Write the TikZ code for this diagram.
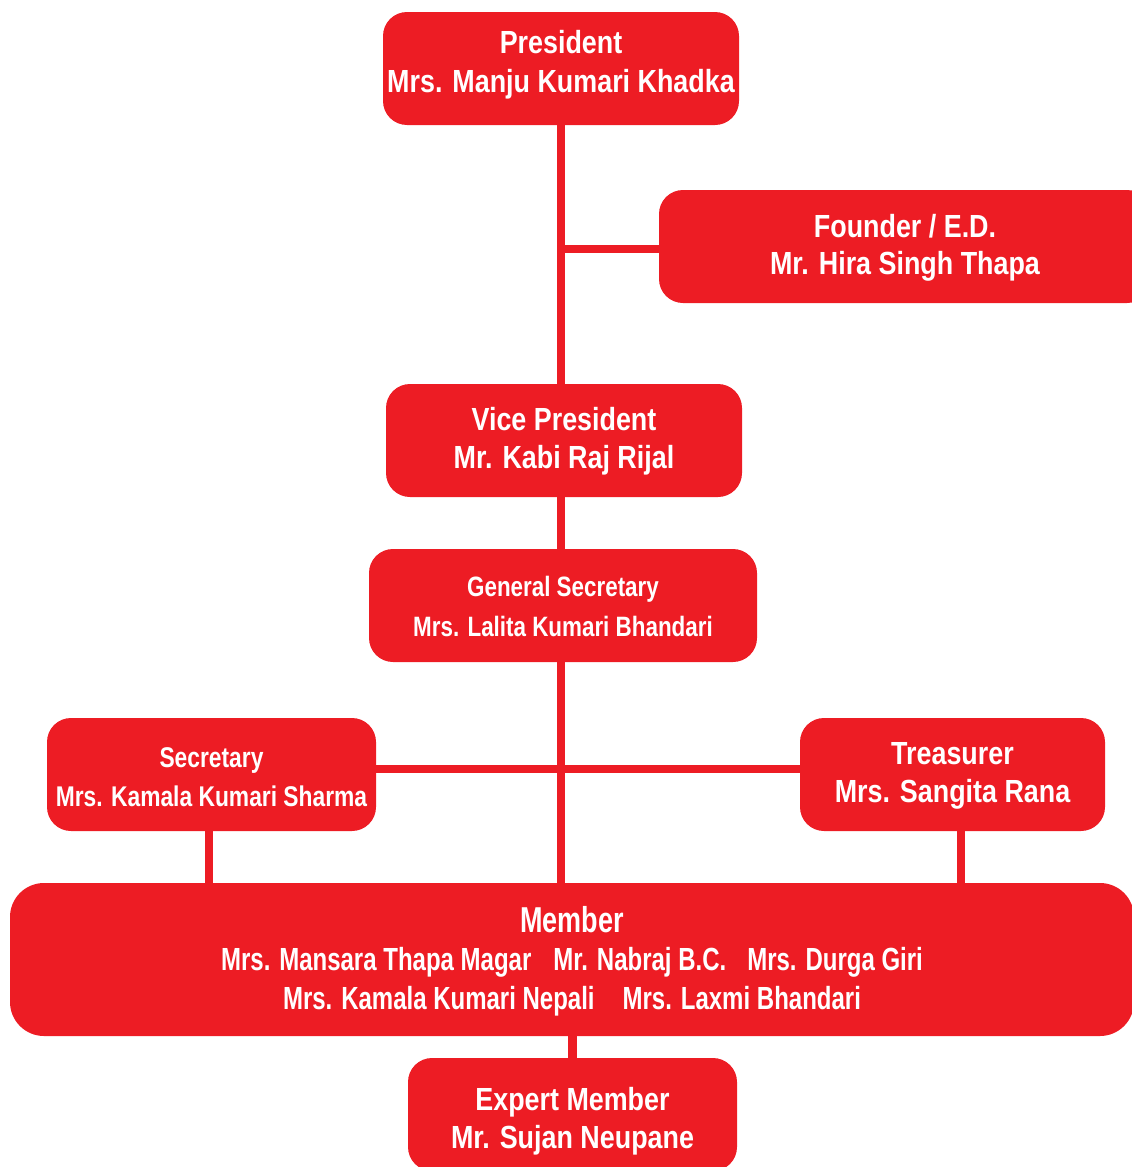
\documentclass[tikz,border=0pt]{standalone}
\usepackage{fontspec}
\newfontfamily\fa{Liberation Sans}[FakeStretch=0.84]
\newfontfamily\fb{Liberation Sans}[FakeStretch=0.80]
\newfontfamily\fc{Liberation Sans}[FakeStretch=0.75]
\definecolor{orgred}{HTML}{ED1C24}
\begin{document}
\begin{tikzpicture}[x=1pt,y=-1pt,
  box/.style={fill=orgred, draw=none, rounded corners=24pt, text=white, align=center, inner sep=0pt},
  link/.style={draw=orgred, line width=8.5pt}]
\useasboundingbox (0,0) rectangle (1132,1167);
\clip (0,0) rectangle (1132,1167);

\node[box, minimum width=356pt, minimum height=113pt,
  font={\fa\bfseries\fontsize{32}{39}\selectfont}, text height=63pt, text depth=16pt]
  (pres) at (561,68.5) {President\\Mrs. Manju Kumari Khadka};

\node[box, minimum width=492pt, minimum height=113pt,
  font={\fa\bfseries\fontsize{32}{37}\selectfont}, text height=61pt, text depth=6pt]
  (founder) at (905,246.5) {Founder / E.D.\\Mr. Hira Singh Thapa};

\node[box, minimum width=356pt, minimum height=113pt,
  font={\fa\bfseries\fontsize{32}{38}\selectfont}, text height=62pt, text depth=7pt]
  (vp) at (564,440.5) {Vice President\\Mr. Kabi Raj Rijal};

\node[box, minimum width=388pt, minimum height=113pt,
  font={\fb\bfseries\fontsize{28}{40}\selectfont}, text height=61pt, text depth=0pt]
  (gs) at (563,605.5) {General Secretary\\Mrs. Lalita Kumari Bhandari};

\node[box, minimum width=329pt, minimum height=113pt,
  font={\fb\bfseries\fontsize{28.5}{39}\selectfont}, text height=63pt, text depth=0pt]
  (sec) at (211.5,774.5) {Secretary\\Mrs. Kamala Kumari Sharma};

\node[box, minimum width=305pt, minimum height=113pt,
  font={\fa\bfseries\fontsize{32}{38}\selectfont}, text height=61pt, text depth=6pt]
  (treas) at (952.5,774.5) {Treasurer\\Mrs. Sangita Rana};

\node[box, rounded corners=34pt, minimum width=1124pt, minimum height=153pt,
  font={\fc\bfseries\fontsize{32}{38.5}\selectfont}, text height=104pt, text depth=5pt]
  (member) at (572,959.5) {{\fontsize{36}{38.5}\selectfont Member}\\
  Mrs. Mansara Thapa Magar\hspace{22pt}Mr. Nabraj B.C.\hspace{21pt}Mrs. Durga Giri\\
  Mrs. Kamala Kumari Nepali\hspace{28pt}Mrs. Laxmi Bhandari};

\node[box, minimum width=329pt, minimum height=113pt,
  font={\fa\bfseries\fontsize{32}{38}\selectfont}, text height=67pt, text depth=0pt]
  (expert) at (572.5,1114.5) {Expert Member\\Mr. Sujan Neupane};

\coordinate (fw) at ([yshift=-2.5pt]founder.west);
\coordinate (fj) at (fw -| pres.south);
\coordinate (se) at ([yshift=5.5pt]sec.east);
\coordinate (te) at ([yshift=5.5pt]treas.west);

\draw[link] (pres.south) -- (pres.south |- vp.north);
\draw[link] (fw) -- (fj);
\draw[link] (vp.south -| pres.south) -- (gs.north -| pres.south);
\draw[link] (gs.south -| pres.south) -- (member.north -| pres.south);
\draw[link] (se) -- (te);
\draw[link] ([xshift=-2.5pt]sec.south) -- ([xshift=-2.5pt]sec.south |- member.north);
\draw[link] ([xshift=8.5pt]treas.south) -- ([xshift=8.5pt]treas.south |- member.north);
\draw[link] (expert.north |- member.south) -- (expert.north);
\end{tikzpicture}
\end{document}
